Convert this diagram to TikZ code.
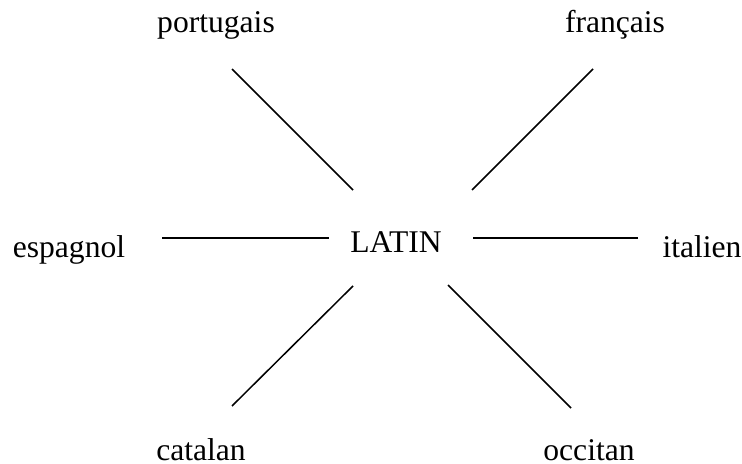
\documentclass[tikz,border=0pt]{standalone}
\usepackage{fontspec}
\setmainfont{Liberation Serif}
\usepackage{tikz}
\usetikzlibrary{positioning}
\definecolor{Ink}{HTML}{000000}
\newcommand{\LangName}[4]{%
  \node[anchor=base,inner sep=0pt,font=\fontsize{15.8}{19}\selectfont,text=Ink] (#1) at (#2,#3) {#4};%
}

\begin{document}
\begin{tikzpicture}[x=0.5pt,y=-0.5pt]
\useasboundingbox (0,0) rectangle (742,464);
\LangName{latin}{396}{252}{LATIN}
\LangName{port}{216}{33}{portugais}
\LangName{fran}{615}{33}{français}
\LangName{espa}{69}{257}{espagnol}
\LangName{ital}{702}{257}{italien}
\LangName{cata}{201}{460}{catalan}
\LangName{occi}{589}{460}{occitan}
\foreach \n/\xa/\ya/\xb/\yb in {port/232/69/353/190,fran/593/69/472/190,espa/162/238/329/238,ital/638/238/473/238,cata/232/406/353/286,occi/571/408/448/285} {
  \coordinate (\n-out) at (\xa,\ya);
  \coordinate (\n-in) at (\xb,\yb);
  \draw[Ink,line width=0.75pt] (\n-out) -- (\n-in);
}
\end{tikzpicture}
\end{document}
